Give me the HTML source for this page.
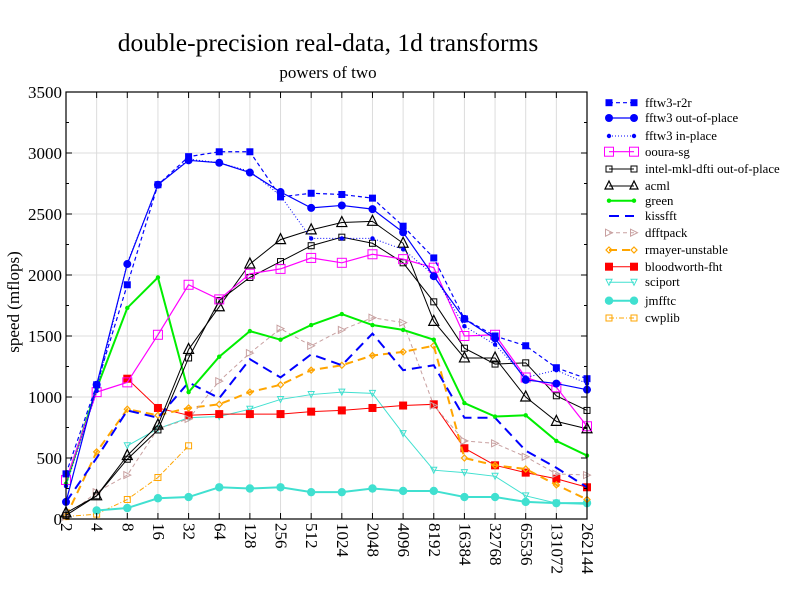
<!DOCTYPE html>
<html><head><meta charset="utf-8"><style>
html,body{margin:0;padding:0;background:#fff;width:792px;height:612px;overflow:hidden}
svg{display:block;font-family:"Liberation Serif",serif}
</style></head><body>
<svg id="s" width="792" height="612" viewBox="0 0 792 612" xmlns="http://www.w3.org/2000/svg">
<rect width="792" height="612" fill="#fff"/>
<g id="grid" stroke="#dcdcdc" stroke-width="1"></g>
<text x="328" y="51" font-size="25.5" text-anchor="middle">double-precision real-data, 1d transforms</text>
<text x="328" y="78" font-size="17" text-anchor="middle">powers of two</text>
<text transform="translate(19,302) rotate(-90)" font-size="17" text-anchor="middle">speed (mflops)</text>
<g font-size="17" text-anchor="end">
<text x="62" y="525">0</text><text x="62" y="464">500</text><text x="62" y="403">1000</text><text x="62" y="342">1500</text><text x="62" y="281">2000</text><text x="62" y="220">2500</text><text x="62" y="159">3000</text><text x="62" y="98">3500</text>
</g>
<g font-size="17" id="xl">
<text transform="translate(61,523) rotate(90)">2</text>
<text transform="translate(91.7,523) rotate(90)">4</text>
<text transform="translate(122.3,523) rotate(90)">8</text>
<text transform="translate(153,523) rotate(90)">16</text>
<text transform="translate(183.6,523) rotate(90)">32</text>
<text transform="translate(214.3,523) rotate(90)">64</text>
<text transform="translate(244.9,523) rotate(90)">128</text>
<text transform="translate(275.6,523) rotate(90)">256</text>
<text transform="translate(306.2,523) rotate(90)">512</text>
<text transform="translate(336.9,523) rotate(90)">1024</text>
<text transform="translate(367.5,523) rotate(90)">2048</text>
<text transform="translate(398.2,523) rotate(90)">4096</text>
<text transform="translate(428.8,523) rotate(90)">8192</text>
<text transform="translate(459.5,523) rotate(90)">16384</text>
<text transform="translate(490.1,523) rotate(90)">32768</text>
<text transform="translate(520.8,523) rotate(90)">65536</text>
<text transform="translate(551.4,523) rotate(90)">131072</text>
<text transform="translate(582.1,523) rotate(90)">262144</text>
</g>
<g id="series"></g>
<rect x="66" y="92" width="521" height="427" fill="none" stroke="#000" stroke-width="1.2"/>
<g id="ticks" stroke="#000"></g>
<g font-size="12.8" id="leg">
<text x="645" y="107">fftw3-r2r</text>
<text x="645" y="122">fftw3 out-of-place</text>
<text x="645" y="140">fftw3 in-place</text>
<text x="645" y="156">ooura-sg</text>
<text x="645" y="173">intel-mkl-dfti out-of-place</text>
<text x="645" y="190">acml</text>
<text x="645" y="205">green</text>
<text x="645" y="220">kissfft</text>
<text x="645" y="237">dfftpack</text>
<text x="645" y="254">rmayer-unstable</text>
<text x="645" y="271">bloodworth-fht</text>
<text x="645" y="286">sciport</text>
<text x="645" y="305">jmfftc</text>
<text x="645" y="322">cwplib</text>
</g>
<g id="legm"></g>
</svg>
<script>
var NS="http://www.w3.org/2000/svg";
function el(p,t,a){var e=document.createElementNS(NS,t);for(var k in a)e.setAttribute(k,a[k]);p.appendChild(e);return e;}
var X=function(i){return 66+i*30.647;},Y=function(v){return 519-v*0.122;};
var g=document.getElementById('grid');
for(var i=1;i<17;i++)el(g,'line',{x1:X(i),x2:X(i),y1:92,y2:519});
for(var v=500;v<3500;v+=500)el(g,'line',{x1:66,x2:587,y1:Y(v),y2:Y(v)});
var tk=document.getElementById('ticks');
for(var v=250;v<3500;v+=250){var L=(v%500==0)?6:3;el(tk,'line',{x1:66,x2:66+L,y1:Y(v),y2:Y(v)});el(tk,'line',{x1:587,x2:587-L,y1:Y(v),y2:Y(v)});}
for(var i=1;i<17;i++){el(tk,'line',{x1:X(i),x2:X(i),y1:519,y2:513});el(tk,'line',{x1:X(i),x2:X(i),y1:92,y2:98});}
var S=[
["#0000ff",1.2,"4,3","sq",6,1,0,[370,1100,1920,2740,2970,3010,3010,2640,2670,2660,2630,2400,2140,1640,1500,1420,1240,1150]],
["#0000ff",1.2,"","ci",4,1,0,[140,1100,2090,2740,2940,2920,2840,2680,2550,2570,2540,2350,1990,1640,1480,1140,1110,1060]],
["#0000ff",1,"1,2","ci",2.2,1,0,[270,1050,2100,2740,2950,2920,2850,2650,2300,2300,2300,2210,2000,1580,1430,1160,1220,1110]],
["#ff00ff",1.2,"","osq",9,0,0,[320,1040,1120,1510,1920,1800,2010,2050,2140,2100,2170,2130,2060,1500,1510,1160,1080,760]],
["#000000",1,"","osq",6,0,0,[30,190,490,730,1320,1790,1980,2110,2240,2310,2260,2100,1780,1400,1270,1280,1010,890]],
["#000000",1,"","tri",10,0,0,[50,190,520,770,1390,1740,2090,2290,2370,2430,2440,2260,1620,1320,1320,1000,800,740]],
["#00ee00",2,"","ci",2.2,1,0,[290,1070,1730,1980,1040,1330,1540,1470,1590,1680,1590,1550,1470,950,840,850,640,520]],
["#0000ff",2,"10,6","",0,0,0,[140,500,890,830,1120,990,1310,1160,1350,1260,1520,1220,1260,830,830,560,420,260]],
["#c8a0a0",1,"4,3","rtri",7,0,0,[20,220,360,740,820,1130,1360,1560,1420,1550,1650,1610,930,640,620,510,370,360]],
["#ffa500",2,"8,5","dia",6,0,0,[20,550,900,850,910,940,1040,1100,1220,1260,1340,1370,1420,500,440,410,280,160]],
["#ff0000",1,"","sq",7,1,2,[1150,910,850,860,860,860,880,890,910,930,940,580,440,380,330,260]],
["#40e0d0",1,"","dtri",6,0,2,[600,740,830,840,900,980,1020,1040,1030,700,400,380,350,190,130,120]],
["#40e0d0",2,"","ci",4.2,1,1,[70,90,170,180,260,250,260,220,220,250,230,230,180,180,140,130,130]],
["#ffa500",1,"5,2,1,2","osq",6,0,0,[20,40,160,340,600]]
];
function mark(p,t,x,y,s,c){
 if(t=="sq"||t=="osq")el(p,'rect',{x:x-s/2,y:y-s/2,width:s,height:s,fill:t=="sq"?c:"none",stroke:c,'stroke-width':1});
 else if(t=="ci")el(p,'circle',{cx:x,cy:y,r:s,fill:c});
 else if(t=="tri")el(p,'polygon',{points:(x)+","+(y-s/2-1)+" "+(x-s/2)+","+(y+s/2-1)+" "+(x+s/2)+","+(y+s/2-1),fill:"none",stroke:c,'stroke-width':1.2});
 else if(t=="rtri")el(p,'polygon',{points:(x-s/2)+","+(y-s/2)+" "+(x+s/2)+","+y+" "+(x-s/2)+","+(y+s/2),fill:"none",stroke:c});
 else if(t=="dtri")el(p,'polygon',{points:(x-s/2)+","+(y-s/2)+" "+(x+s/2)+","+(y-s/2)+" "+x+","+(y+s/2),fill:"none",stroke:c});
 else if(t=="dia")el(p,'polygon',{points:x+","+(y-s/2)+" "+(x+s/2)+","+y+" "+x+","+(y+s/2)+" "+(x-s/2)+","+y,fill:"none",stroke:c,'stroke-width':1.2});
}
var sg=document.getElementById('series'),lm=document.getElementById('legm');
var ly=[102.7,118,136,151.7,169,186,200.7,216,232.7,250,266.7,282.3,300.7,318];
for(var k=S.length-1;k>=0;k--){var s=S[k],pts=[];
 for(var j=0;j<s[7].length;j++)pts.push(X(j+s[6])+","+Y(s[7][j]));
 var a={points:pts.join(" "),fill:"none",stroke:s[0],'stroke-width':s[1]};if(s[2])a['stroke-dasharray']=s[2];
 el(sg,'polyline',a);
 for(var j=0;j<s[7].length;j++)if(s[3])mark(sg,s[3],X(j+s[6]),Y(s[7][j]),s[4],s[0]);
 var b={x1:609,x2:634,y1:ly[k],y2:ly[k],stroke:s[0],'stroke-width':s[1]};if(s[2])b['stroke-dasharray']=s[2];
 el(lm,'line',b);
 var ms=(s[3]=="tri")?8:s[4];
 if(s[3]){mark(lm,s[3],609,ly[k],ms,s[0]);mark(lm,s[3],634,ly[k],ms,s[0]);}
}
</script>
</body></html>
